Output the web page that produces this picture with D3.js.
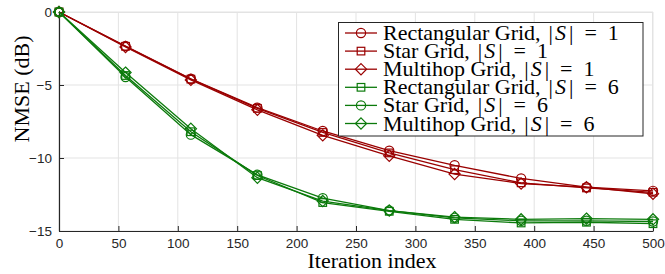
<!DOCTYPE html>
<html>
<head>
<meta charset="utf-8">
<script src="https://cdn.jsdelivr.net/npm/d3@7"></script>
<style>
  html, body { margin: 0; padding: 0; background: #fff; }
  svg { display: block; }
</style>
</head>
<body>
<svg id="chart" width="665" height="274"></svg>
<script>
// ---- data ----
const iterations = [0, 56, 111, 167, 222, 278, 333, 389, 444, 500];
const rectS1  = [0, -2.33, -4.57, -6.55, -8.15, -9.50, -10.50, -11.40, -12.00, -12.25];
const starS1  = [0, -2.35, -4.60, -6.60, -8.25, -9.65, -10.80, -11.70, -12.05, -12.35];
const multiS1 = [0, -2.40, -4.65, -6.70, -8.45, -9.85, -11.10, -11.75, -12.00, -12.45];
const rectS6  = [0, -4.35, -8.20, -11.20, -13.05, -13.65, -14.20, -14.45, -14.40, -14.50];
const starS6  = [0, -4.45, -8.40, -11.15, -12.75, -13.60, -14.10, -14.30, -14.30, -14.35];
const multiS6 = [0, -4.15, -8.00, -11.35, -12.95, -13.60, -14.05, -14.20, -14.15, -14.20];
const seriesNames = ["Rectangular Grid", "Star Grid", "Multihop Grid", "Rectangular Grid", "Star Grid", "Multihop Grid"];
const seriesSetSize = ["1", "1", "1", "6", "6", "6"];
const xTicks = [0, 50, 100, 150, 200, 250, 300, 350, 400, 450, 500];
const yTicks = [0, -5, -10, -15];

// ---- styles ----
const RED = "#9a0000", GREEN = "#0b7a0b";
const series = [
  { name: seriesNames[0], n: seriesSetSize[0], values: rectS1,  color: RED,   marker: "circle" },
  { name: seriesNames[1], n: seriesSetSize[1], values: starS1,  color: RED,   marker: "square" },
  { name: seriesNames[2], n: seriesSetSize[2], values: multiS1, color: RED,   marker: "diamond" },
  { name: seriesNames[3], n: seriesSetSize[3], values: rectS6,  color: GREEN, marker: "square" },
  { name: seriesNames[4], n: seriesSetSize[4], values: starS6,  color: GREEN, marker: "circle" },
  { name: seriesNames[5], n: seriesSetSize[5], values: multiS6, color: GREEN, marker: "diamond" }
];

const svg = d3.select("#chart");
const L = 59, R = 653, T = 12, B = 231;
const x = d3.scaleLinear().domain([0, 500]).range([L, R]);
const y = d3.scaleLinear().domain([-15, 0]).range([B, T]);

// grid
const grid = svg.append("g");
grid.selectAll("line.gx").data(xTicks).join("line")
  .attr("x1", d => x(d)).attr("x2", d => x(d)).attr("y1", T).attr("y2", B)
  .attr("stroke", "#e3e3e3").attr("stroke-width", 1);
grid.selectAll("line.gy").data(yTicks).join("line")
  .attr("x1", L).attr("x2", R).attr("y1", d => y(d)).attr("y2", d => y(d))
  .attr("stroke", "#e3e3e3").attr("stroke-width", 1);

// box top/right
svg.append("line").attr("x1", L).attr("x2", R).attr("y1", T + 0.5).attr("y2", T + 0.5).attr("stroke", "#e3e3e3");
svg.append("line").attr("x1", R - 0.5).attr("x2", R - 0.5).attr("y1", T).attr("y2", B).attr("stroke", "#e3e3e3");

// axes
const xAxis = d3.axisBottom(x).tickValues(xTicks).tickSizeInner(-5).tickSizeOuter(0).tickPadding(7);
const yAxis = d3.axisLeft(y).tickValues(yTicks).tickSizeInner(-5).tickSizeOuter(0).tickPadding(7);
const gx = svg.append("g").attr("transform", `translate(0,${B})`).call(xAxis);
const gy = svg.append("g").attr("transform", `translate(${L},0)`).call(yAxis);
[gx, gy].forEach(g => {
  g.select(".domain").attr("stroke", "#262626").attr("stroke-width", 1.2);
  g.selectAll(".tick line").attr("stroke", "#262626");
  g.selectAll(".tick text").attr("fill", "#262626")
    .style("font-family", "'Liberation Sans', Arial, sans-serif").style("font-size", "13.5px");
});

// marker drawing
function marker(g, type, cx, cy, color) {
  if (type === "circle") {
    g.append("circle").attr("cx", cx).attr("cy", cy).attr("r", 4.6)
      .attr("fill", "none").attr("stroke", color).attr("stroke-width", 1.2);
  } else if (type === "square") {
    g.append("rect").attr("x", cx - 3.8).attr("y", cy - 3.8).attr("width", 7.6).attr("height", 7.6)
      .attr("fill", "none").attr("stroke", color).attr("stroke-width", 1.2);
  } else {
    const s = 5.6;
    g.append("path").attr("d", `M${cx},${cy - s}L${cx + s},${cy}L${cx},${cy + s}L${cx - s},${cy}Z`)
      .attr("fill", "none").attr("stroke", color).attr("stroke-width", 1.2);
  }
}

// lines
const line = d3.line().x(d => x(d[0])).y(d => y(d[1]));
const plot = svg.append("g");
series.forEach(s => {
  const pts = iterations.map((it, i) => [it, s.values[i]]);
  plot.append("path").datum(pts).attr("d", line)
    .attr("fill", "none").attr("stroke", s.color).attr("stroke-width", 1.3);
  const mg = plot.append("g");
  pts.forEach(p => marker(mg, s.marker, x(p[0]), y(p[1]), s.color));
});

// axis labels
svg.append("text").attr("x", 372).attr("y", 268).attr("text-anchor", "middle")
  .style("font-family", "'Liberation Serif', 'Times New Roman', serif").style("font-size", "22px")
  .attr("fill", "#000").text("Iteration index");
svg.append("text").attr("transform", "translate(29,89) rotate(-90)").attr("text-anchor", "middle")
  .style("font-family", "'Liberation Serif', 'Times New Roman', serif").style("font-size", "22px")
  .attr("fill", "#000").text("NMSE (dB)");

// legend
const lg = svg.append("g");
lg.append("rect").attr("x", 338.5).attr("y", 22.5).attr("width", 304.5).attr("height", 113.5)
  .attr("fill", "#fff").attr("stroke", "#262626").attr("stroke-width", 1);
series.forEach((s, i) => {
  const cy = 33 + i * 18.1;
  lg.append("line").attr("x1", 345).attr("x2", 377).attr("y1", cy).attr("y2", cy)
    .attr("stroke", s.color).attr("stroke-width", 1.3);
  marker(lg, s.marker, 361, cy, s.color);
  const t = lg.append("text").attr("x", 383).attr("y", cy + 7)
    .style("font-family", "'Liberation Serif', 'Times New Roman', serif").style("font-size", "22px")
    .attr("fill", "#000").attr("xml:space", "preserve");
  t.append("tspan").text(s.name + ",");
  t.append("tspan").attr("dx", 8).text("|");
  t.append("tspan").attr("dx", 2).style("font-style", "italic").text("S");
  t.append("tspan").attr("dx", 3).text("|\u2002=\u2002" + s.n);
});
</script>
</body>
</html>
